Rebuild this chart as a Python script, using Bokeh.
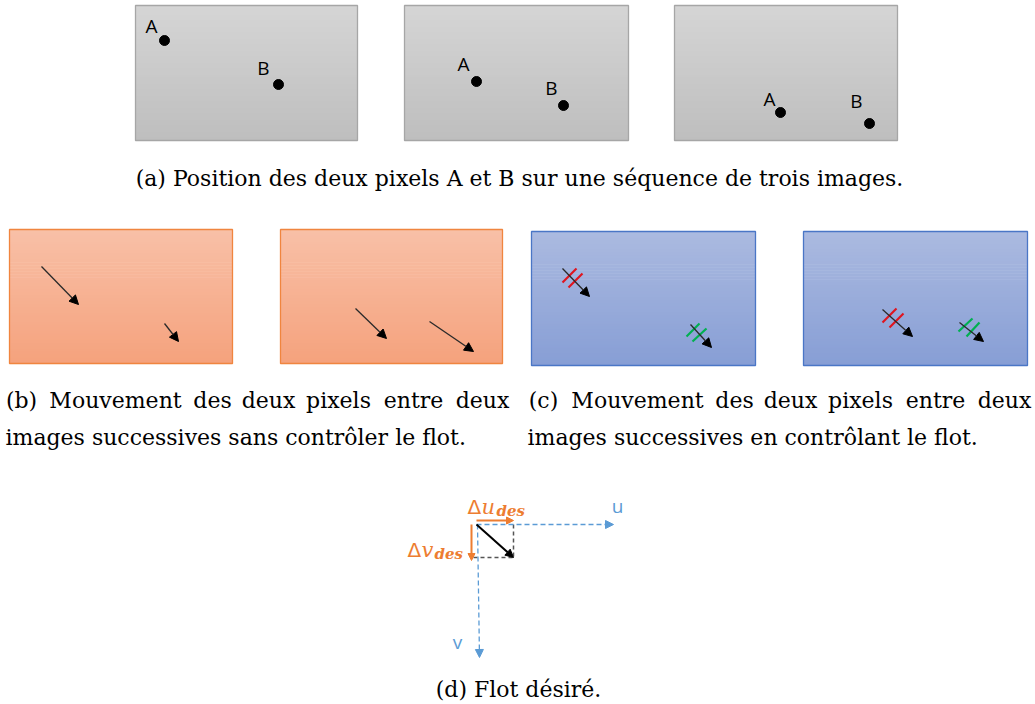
from bokeh.plotting import figure
from bokeh.models import Range1d, Arrow, NormalHead, ColumnDataSource
from bokeh.core.properties import value
from bokeh.embed import file_html
from bokeh.resources import INLINE

# ---------------- data (pixel coordinates of the diagram) ----------------
# (a) three grey frames
a_left = [135, 404, 674]
a_right = [357, 628, 897]
a_top = [5, 5, 5]
a_bottom = [140, 140, 140]
A_x = [164, 476, 780]
A_y = [40, 81, 112]
B_x = [278, 563, 869]
B_y = [84, 105, 123]
A_lab_x = [151, 463, 769]
A_lab_y = [25, 63, 98]
B_lab_x = [263, 551, 856]
B_lab_y = [67, 87, 100]

# (b) two orange frames with uncontrolled motion arrows
b_left = [9, 280]
b_right = [232, 502]
b_top = [229, 229]
b_bottom = [363, 363]
b_x0 = [41, 164, 355, 429]
b_y0 = [266, 323, 308, 321]
b_x1 = [78, 178, 386, 473]
b_y1 = [304, 341, 338, 351]

# (c) two blue frames with controlled motion arrows
c_left = [531, 803]
c_right = [755, 1027]
c_top = [231, 231]
c_bottom = [365, 365]
c_x0 = [562, 690, 882, 959]
c_y0 = [268, 324, 309, 322]
c_x1 = [589, 711, 912, 983]
c_y1 = [296, 347, 336, 341]
red_tx0 = [562, 568, 882, 889]
red_ty0 = [282, 287, 322, 327]
red_tx1 = [576, 582, 896, 903]
red_ty1 = [268, 273, 308, 313]
green_tx0 = [686, 692, 958, 966]
green_ty0 = [336, 341, 331, 336]
green_tx1 = [699, 706, 972, 979]
green_ty1 = [323, 328, 318, 322]

# (d) desired flow
origin = (476, 524)
u_end = (613, 524)
v_end = (479, 657)
flow_end = (513, 557)
du_arrow = [(476, 520), (513, 520)]
dv_arrow = [(471, 524), (471, 560)]

caption_a = "(a) Position des deux pixels A et B sur une séquence de trois images."
caption_b1 = ["(b)", "Mouvement", "des", "deux", "pixels", "entre", "deux"]
caption_b1_x = [21, 115, 212, 268, 338, 413, 482]
caption_b2 = "images successives sans contrôler le flot."
caption_c1 = ["(c)", "Mouvement", "des", "deux", "pixels", "entre", "deux"]
caption_c1_x = [543, 637, 734, 790, 860, 935, 1004]
caption_c2 = "images successives en contrôlant le flot."
caption_d = "(d) Flot désiré."

# ---------------- figure ----------------
W, H = 1035, 704
p = figure(width=W, height=H, x_range=Range1d(0, W), y_range=Range1d(H, 0),
           output_backend="svg", toolbar_location=None, min_border=0,
           x_axis_type=None, y_axis_type=None)
p.grid.visible = False
p.outline_line_color = None
p.background_fill_color = "white"
p.border_fill_color = "white"


def hexrgb(h):
    h = h.lstrip("#")
    return tuple(int(h[i:i + 2], 16) for i in (0, 2, 4))


def gradient_panels(lefts, rights, tops, bottoms, ctop, cbot, border, n=45):
    t, b = hexrgb(ctop), hexrgb(cbot)
    L, R, T, B, C = [], [], [], [], []
    for l, r, tp, bt in zip(lefts, rights, tops, bottoms):
        h = (bt - tp) / n
        for i in range(n):
            f = (i + 0.5) / n
            col = "#%02x%02x%02x" % tuple(int(round(t[k] + (b[k] - t[k]) * f)) for k in range(3))
            L.append(l); R.append(r); T.append(tp + i * h); B.append(tp + (i + 1) * h + 0.6)
            C.append(col)
    p.quad(left=L, right=R, top=T, bottom=B, fill_color=C, line_color=None)
    p.quad(left=lefts, right=rights, top=tops, bottom=bottoms, fill_color=None,
           line_color=border, line_width=1.3)


gradient_panels(a_left, a_right, a_top, a_bottom, "#d5d5d5", "#bebebe", "#a6a6a6")
gradient_panels(b_left, b_right, b_top, b_bottom, "#f8c0a7", "#f5a27d", "#f0853f")
gradient_panels(c_left, c_right, c_top, c_bottom, "#abbae0", "#879ed5", "#4a76c6")

# (a) points and labels
p.scatter(A_x + B_x, A_y + B_y, size=10, color="black")
p.text(A_lab_x + B_lab_x, A_lab_y + B_lab_y, text=["A"] * 3 + ["B"] * 3,
       text_font=value("Open Sans"), text_font_size="19px", text_color="black",
       text_align="center", text_baseline="middle")

# (b) arrows
src_b = ColumnDataSource(dict(x0=b_x0, y0=b_y0, x1=b_x1, y1=b_y1))
p.add_layout(Arrow(end=NormalHead(size=9, fill_color="black", line_color="black"),
                   x_start="x0", y_start="y0", x_end="x1", y_end="y1", source=src_b,
                   line_color="#2a2a2a", line_width=1.3))

# (c) arrows with red / green ticks
src_c = ColumnDataSource(dict(x0=c_x0, y0=c_y0, x1=c_x1, y1=c_y1))
p.add_layout(Arrow(end=NormalHead(size=9, fill_color="black", line_color="black"),
                   x_start="x0", y_start="y0", x_end="x1", y_end="y1", source=src_c,
                   line_color="#2a2a2a", line_width=1.3))
p.segment(red_tx0, red_ty0, red_tx1, red_ty1, line_color="#e0141e", line_width=2.2)
p.segment(green_tx0, green_ty0, green_tx1, green_ty1, line_color="#00b050", line_width=2.2)

# (d) axes u, v
blue = "#5b9bd5"
orange = "#ed7d31"
p.add_layout(Arrow(end=NormalHead(size=8, fill_color=blue, line_color=blue),
                   x_start=origin[0], y_start=origin[1], x_end=u_end[0], y_end=u_end[1],
                   line_color=blue, line_width=1.3, line_dash="5 3"))
p.add_layout(Arrow(end=NormalHead(size=8, fill_color=blue, line_color=blue),
                   x_start=origin[0] + 1, y_start=origin[1], x_end=v_end[0], y_end=v_end[1],
                   line_color=blue, line_width=1.3, line_dash="5 3"))
p.text([617, 457], [505, 641], text=["u", "v"], text_font=value("Open Sans"),
       text_font_size="19px", text_color=blue, text_align="center", text_baseline="middle")
# dashed box
p.segment([flow_end[0], 473], [origin[1], flow_end[1]], [flow_end[0], flow_end[0]],
          [flow_end[1], flow_end[1]], line_color="#555555", line_width=1.5, line_dash="4 3")
p.add_layout(Arrow(end=NormalHead(size=8, fill_color="black", line_color="black"),
                   x_start=origin[0], y_start=origin[1], x_end=flow_end[0], y_end=flow_end[1],
                   line_color="black", line_width=2))
p.add_layout(Arrow(end=NormalHead(size=7, fill_color=orange, line_color=orange),
                   x_start=du_arrow[0][0], y_start=du_arrow[0][1], x_end=du_arrow[1][0],
                   y_end=du_arrow[1][1], line_color=orange, line_width=2))
p.add_layout(Arrow(end=NormalHead(size=7, fill_color=orange, line_color=orange),
                   x_start=dv_arrow[0][0], y_start=dv_arrow[0][1], x_end=dv_arrow[1][0],
                   y_end=dv_arrow[1][1], line_color=orange, line_width=2))
# delta labels
p.text([467, 407], [506, 549], text=["Δ", "Δ"], text_font=value("DejaVu Sans"),
       text_font_size="20px", text_color=orange, text_baseline="alphabetic")
p.text([481, 421], [506, 549], text=["u", "v"], text_font=value("DejaVu Serif"),
       text_font_size="21px", text_font_style="italic", text_color=orange,
       text_baseline="alphabetic")
p.text([496, 434], [510, 553], text=["des", "des"], text_font=value("DejaVu Serif"),
       text_font_size="15px", text_font_style="bold italic", text_color=orange,
       text_baseline="alphabetic")

# captions
serif = value("DejaVu Serif")
fs = "22px"
p.text([519], [178], text=[caption_a], text_font=serif, text_font_size=fs,
       text_color="black", text_align="center", text_baseline="middle")
p.text(caption_b1_x + caption_c1_x, [400] * 14, text=caption_b1 + caption_c1,
       text_font=serif, text_font_size=fs, text_color="black", text_align="center",
       text_baseline="middle")
p.text([5, 527], [437, 437], text=[caption_b2, caption_c2], text_font=serif,
       text_font_size=fs, text_color="black", text_align="left", text_baseline="middle")
p.text([518], [689], text=[caption_d], text_font=serif, text_font_size=fs,
       text_color="black", text_align="center", text_baseline="middle")

html = file_html(p, INLINE)
html = html.replace("<body>", '<body style="margin:0;overflow:hidden">', 1)
open("out.html", "w").write(html)
